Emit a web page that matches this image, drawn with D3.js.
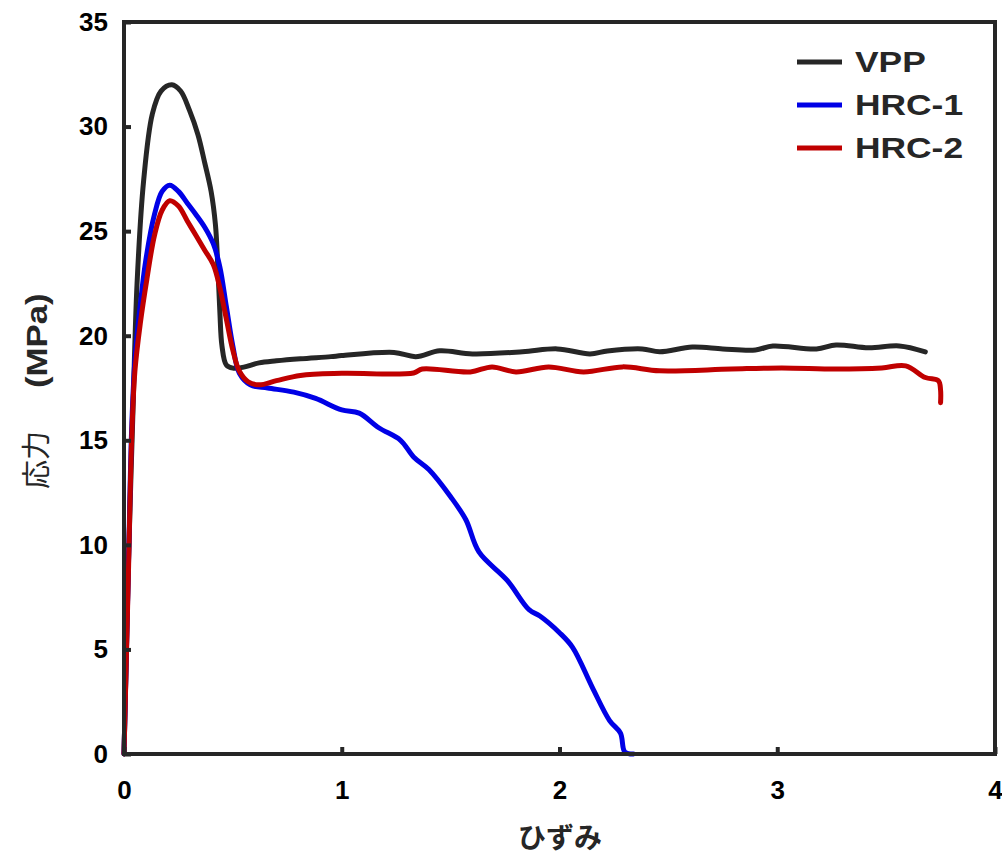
<!DOCTYPE html>
<html>
<head>
<meta charset="utf-8">
<style>
  body { margin: 0; background: #fff; }
  svg text { font-family: "Liberation Sans", Arial, sans-serif; }
</style>
<script src="https://cdn.jsdelivr.net/npm/d3@7"></script>
</head>
<body>
<svg id="chart" width="1002" height="859"></svg>
<script>
// strain / stress readings for each specimen
var seriesNames = ["VPP", "HRC-1", "HRC-2"];

var vppX = [0, 0.01, 0.02, 0.04, 0.06, 0.09, 0.13, 0.17, 0.22, 0.26, 0.30, 0.34, 0.37, 0.40, 0.42, 0.43, 0.44, 0.45, 0.47, 0.50, 0.55, 0.62, 0.70, 0.81, 0.95, 1.0, 1.24, 1.34, 1.45, 1.60, 1.83, 1.99, 2.14, 2.22, 2.38, 2.46, 2.61, 2.75, 2.90, 2.98, 3.18, 3.27, 3.42, 3.56, 3.68];
var vppY = [0, 4.5, 9, 16, 22.5, 27.4, 30.6, 31.7, 32.0, 31.7, 30.8, 29.6, 28.3, 26.9, 25.3, 23.5, 21.2, 19.5, 18.6, 18.45, 18.5, 18.7, 18.8, 18.9, 19.0, 19.05, 19.2, 19.0, 19.28, 19.13, 19.23, 19.37, 19.13, 19.27, 19.37, 19.23, 19.46, 19.37, 19.32, 19.51, 19.37, 19.56, 19.42, 19.51, 19.23];

var hrc1X = [0, 0.02, 0.035, 0.05, 0.075, 0.10, 0.14, 0.175, 0.21, 0.25, 0.29, 0.33, 0.37, 0.41, 0.44, 0.47, 0.50, 0.53, 0.58, 0.66, 0.78, 0.88, 1.0, 1.08, 1.17, 1.27, 1.33, 1.40, 1.50, 1.57, 1.63, 1.76, 1.86, 1.91, 2.0, 2.06, 2.15, 2.23, 2.28, 2.30, 2.34];
var hrc1Y = [0, 8.8, 15.5, 18.8, 21.5, 23.6, 25.8, 26.9, 27.2, 26.9, 26.35, 25.8, 25.2, 24.4, 23.3, 21.4, 19.5, 18.2, 17.65, 17.5, 17.3, 17.0, 16.45, 16.3, 15.6, 15.0, 14.2, 13.6, 12.3, 11.2, 9.66, 8.3, 6.9, 6.6, 5.8, 5.1, 3.2, 1.6, 1.0, 0.1, 0];

var hrc2X = [0, 0.02, 0.035, 0.05, 0.075, 0.105, 0.14, 0.175, 0.21, 0.25, 0.29, 0.33, 0.37, 0.41, 0.44, 0.47, 0.50, 0.53, 0.57, 0.62, 0.70, 0.81, 1.0, 1.33, 1.37, 1.59, 1.69, 1.80, 1.95, 2.11, 2.29, 2.46, 2.79, 3.02, 3.27, 3.48, 3.59, 3.68, 3.74, 3.75, 3.75];
var hrc2Y = [0, 8.5, 15.0, 18.3, 20.6, 22.7, 24.8, 26.0, 26.45, 26.2, 25.5, 24.8, 24.1, 23.4, 22.3, 20.8, 19.3, 18.3, 17.8, 17.65, 17.85, 18.1, 18.2, 18.22, 18.41, 18.27, 18.51, 18.27, 18.51, 18.27, 18.51, 18.32, 18.41, 18.46, 18.41, 18.46, 18.56, 18.0, 17.85, 17.4, 16.8];

var xTicks = [0, 1, 2, 3, 4];
var yTicks = [0, 5, 10, 15, 20, 25, 30, 35];

var colors = ["#262626", "#0000e6", "#c00000"];

var svg = d3.select("#chart");
var mLeft = 124, mRight = 995, mTop = 22, mBottom = 754;

var x = d3.scaleLinear().domain([0, 4]).range([mLeft, mRight]);
var y = d3.scaleLinear().domain([0, 35]).range([mBottom, mTop]);

var allX = [vppX, hrc1X, hrc2X];
var allY = [vppY, hrc1Y, hrc2Y];

var line = d3.line()
  .x(function(d) { return x(d[0]); })
  .y(function(d) { return y(d[1]); })
  .curve(d3.curveCatmullRom.alpha(0.5));

// VPP first, HRC-2 ends up on top
[0, 1, 2].forEach(function(k) {
  var pts = allX[k].map(function(v, i) { return [v, allY[k][i]]; });
  svg.append("path")
    .attr("d", line(pts))
    .attr("fill", "none")
    .attr("stroke", colors[k])
    .attr("stroke-width", 5)
    .attr("stroke-linejoin", "round")
    .attr("stroke-linecap", "round");
});

// axes
var xAxis = d3.axisBottom(x).tickValues(xTicks).tickSize(-7).tickPadding(27).tickFormat(d3.format("d"));
var yAxis = d3.axisLeft(y).tickValues(yTicks).tickSize(-7).tickPadding(16).tickFormat(d3.format("d"));

var gx = svg.append("g").attr("transform", "translate(0," + mBottom + ")").call(xAxis);
var gy = svg.append("g").attr("transform", "translate(" + mLeft + ",0)").call(yAxis);

[gx, gy].forEach(function(g) {
  g.select(".domain").remove();
  g.selectAll(".tick line").attr("stroke", "#262626").attr("stroke-width", 4);
  g.selectAll(".tick text")
    .attr("fill", "#000")
    .style("font-size", "26px")
    .style("font-weight", "bold");
});

// frame
svg.append("rect")
  .attr("x", mLeft).attr("y", mTop)
  .attr("width", mRight - mLeft).attr("height", mBottom - mTop)
  .attr("fill", "none")
  .attr("stroke", "#262626")
  .attr("stroke-width", 4);

// axis titles
svg.append("text")
  .attr("x", 560)
  .attr("y", 848)
  .attr("text-anchor", "middle")
  .style("font-family", "'Noto Sans CJK JP', sans-serif")
  .style("font-size", "28px")
  .style("font-weight", "bold")
  .attr("fill", "#262626")
  .text("ひずみ");

svg.append("text")
  .attr("transform", "translate(47,489) rotate(-90)")
  .attr("fill", "#262626")
  .style("font-family", "'Noto Sans CJK JP', sans-serif")
  .style("font-size", "29px")
  .text("応力");

svg.append("text")
  .attr("transform", "translate(47,388) rotate(-90) scale(1.2,1)")
  .attr("fill", "#262626")
  .style("font-size", "29px")
  .style("font-weight", "bold")
  .text("(MPa)");

// legend
var legend = svg.append("g").attr("transform", "translate(797,62)");
seriesNames.forEach(function(name, i) {
  var g = legend.append("g").attr("transform", "translate(0," + (i * 43) + ")");
  g.append("line")
    .attr("x1", 0).attr("x2", 45)
    .attr("y1", 0).attr("y2", 0)
    .attr("stroke", colors[i])
    .attr("stroke-width", 5);
  g.append("text")
    .attr("transform", "translate(58,10) scale(1.22,1)")
    .attr("fill", "#262626")
    .style("font-size", "29px")
    .style("font-weight", "bold")
    .text(name);
});
</script>
</body>
</html>
